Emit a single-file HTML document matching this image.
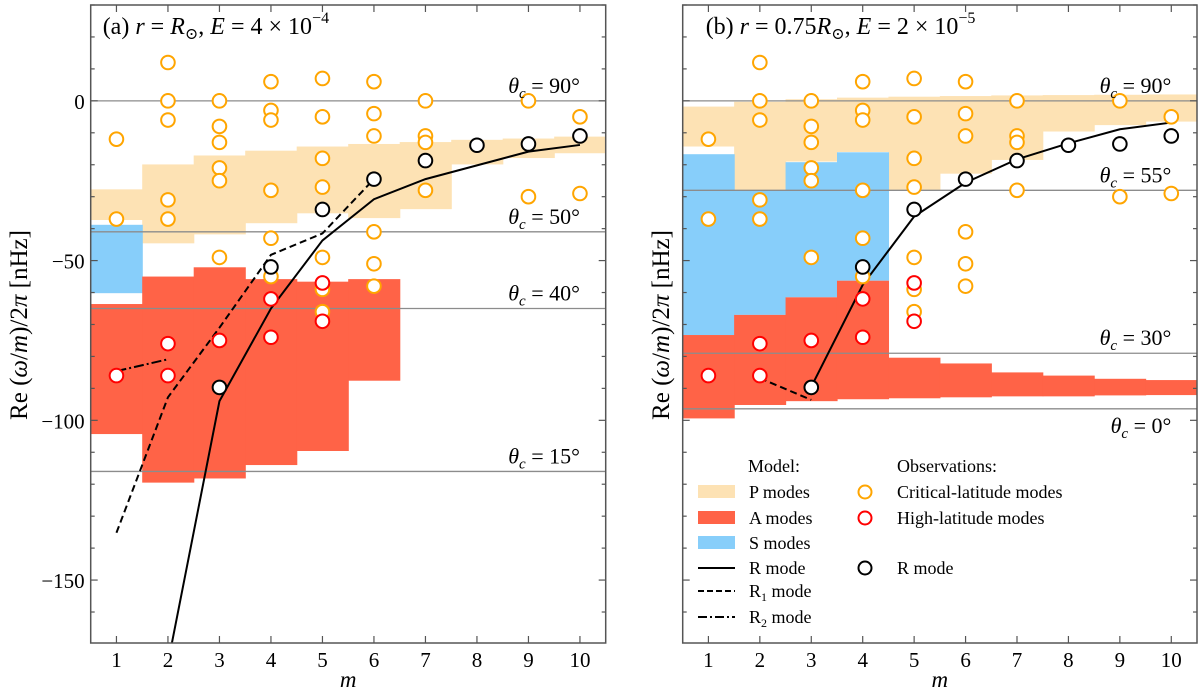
<!DOCTYPE html>
<html><head><meta charset="utf-8">
<style>
html,body{margin:0;padding:0;background:#fff;}
svg{display:block;font-family:"Liberation Serif","DejaVu Serif",serif;}
</style></head>
<body>
<svg id="chart" width="1200" height="690" viewBox="0 0 1200 690" xmlns="http://www.w3.org/2000/svg">
</svg>
<script>
// ---------- shared data ----------
const mValues = [1,2,3,4,5,6,7,8,9,10];
const yTickMajor = [0,-50,-100,-150];
const yTickLabels = ["0","\u221250","\u2212100","\u2212150"];
// observations (same in both panels)
const obsCritM   = [1,1,2,2,2,2,2,3,3,3,3,3,3,4,4,4,4,4,4,5,5,5,5,5,5,5,6,6,6,6,6,6,7,7,7,7,9,9,10,10];
const obsCritVal = [-12,-37,12,0,-6,-31,-37,0,-8,-13,-21,-25,-49,6,-3,-6,-28,-43,-55,7,-5,-18,-27,-49,-59,-66,6,-4,-11,-41,-51,-58,0,-11,-13,-28,0,-30,-5,-29];
const obsHighM   = [1,2,2,3,4,4,5,5];
const obsHighVal = [-86,-76,-86,-75,-62,-74,-57,-69];
const obsRM      = [3,4,5,6,7,8,9,10];
const obsRVal    = [-89.7,-52,-34,-24.5,-18.7,-13.9,-13.5,-11];

// panel (a)
const aPTop = [-27.7,-19.9,-17.1,-15.6,-14.3,-13.5,-12.9,-12.2,-11.8,-11.2];
const aPBot = [-37.3,-44.6,-41.8,-38.3,-35.2,-36.7,-33.9,-19.9,-17.9,-16.4];
const aSM   = [1];
const aSTop = [-38.8];
const aSBot = [-60.2];
const aAM   = [1,2,3,4,5,6];
const aATop = [-63.6,-55,-52.1,-55.8,-56.6,-55.8];
const aABot = [-104.3,-119.5,-118.2,-114,-109.6,-87.6];
const aRM   = [2,3,4,5,6,7,8,9,10];
const aRVal = [-176,-94,-65,-43.7,-30.8,-24.5,-20.2,-15.9,-13.8];
const aR1M  = [1,2,3,4,5,6];
const aR1Val= [-135.2,-92.8,-71,-48.2,-41.5,-24.5];
const aR2M  = [1,2];
const aR2Val= [-84.6,-80.9];
const aThetaVal = [0,-41,-65,-116];
const aThetaLab = ["90","50","40","15"];

// panel (b)
const bPTop = [-1.8,-0.3,0.5,1,1.3,1.5,1.7,1.8,1.9,2];
const bPBot = [-14.3,-28,-19,-16,-28,-22.8,-18.5,-9.6,-7.6,-6.5];
const bSM   = [1,2,3,4];
const bSTop = [-16.7,-28,-19.2,-16.1];
const bSBot = [-73.3,-67,-61.5,-56.3];
const bAM   = [1,2,3,4,5,6,7,8,9,10];
const bATop = [-73.3,-67,-61.5,-56.3,-80.4,-82.2,-85,-86,-87,-87.4];
const bABot = [-99.4,-95.2,-94,-93.4,-93.1,-92.8,-92.5,-92.5,-92.2,-92.1];
const bRM   = [3,4,5,6,7,8,9,10];
const bRVal = [-89.5,-57.6,-36.2,-25.6,-18.3,-13.3,-8.9,-6.8];
const bR1M  = [2,3];
const bR1Val= [-86.8,-93.6];
const bR2M  = [];
const bR2Val= [];
const bThetaVal = [0,-28,-79,-96.4];
const bThetaLab = ["90","55","30","0"];

const NS = "http://www.w3.org/2000/svg";
const svg = document.getElementById('chart');
function mk(tag, attrs, parent){
  const e = document.createElementNS(NS, tag);
  for (const k in attrs) e.setAttribute(k, attrs[k]);
  (parent||svg).appendChild(e);
  return e;
}
const COL = {P:"#fde2b4", A:"#ff6347", S:"#87cefa", orange:"#ffa500", red:"#ff0000", grey:"#8c8c8c"};

function panel(cfg){
  const L=cfg.left, R=cfg.right, T=5, B=643;
  const yMin=-169.7, yMax=30;
  const xs = m => L + (m-0.5)/10*(R-L);
  const ys = v => T + (yMax-v)/(yMax-yMin)*(B-T);
  const g = mk('g',{});
  
  
  const clipId = cfg.name+'-clip';
  const defs = mk('defs',{},g);
  const cp = mk('clipPath',{id:clipId},defs);
  mk('rect',{x:L,y:T,width:R-L,height:B-T},cp);
  const plot = mk('g',{'clip-path':'url(#'+clipId+')'},g);
  
  
  const half = (R-L)/20;
  function bands(ms, tops, bots, color, nm){
    for(let i=0;i<ms.length;i++){
      const y1=ys(tops[i]), y2=ys(bots[i]);
      const r = mk('rect',{x:xs(ms[i])-half,y:y1,width:2*half+0.6,height:y2-y1,fill:color},plot);
      
      
    }
  }
  bands(mValues, cfg.PTop, cfg.PBot, COL.P, 'p-modes');
  bands(cfg.SM, cfg.STop, cfg.SBot, COL.S, 's-modes');
  bands(cfg.AM, cfg.ATop, cfg.ABot, COL.A, 'a-modes');
  // theta lines
  for(let i=0;i<cfg.thetaVal.length;i++){
    const y=ys(cfg.thetaVal[i]);
    const ln = mk('line',{x1:L,x2:R,y1:y,y2:y,stroke:COL.grey,'stroke-width':1.3},plot);
    
    
    const below = cfg.thetaBelow && i===cfg.thetaVal.length-1;
    const t = mk('text',{x:xs(10)+0,y: below? y+24 : y-8,'font-size':22,'text-anchor':'end'},g);
    
    
    t.innerHTML = '<tspan font-style="italic">θ</tspan><tspan font-style="italic" font-size="15" dy="5">c</tspan><tspan dy="-5"> = '+cfg.thetaLab[i]+'°</tspan>';
  }
  function line(ms, vals, dash, nm){
    if(!ms.length) return;
    const pts = ms.map((m,i)=>xs(m)+','+ys(vals[i])).join(' ');
    const p = mk('polyline',{points:pts,fill:'none',stroke:'#000','stroke-width':2,'stroke-dasharray':dash},plot);
    
    
  }
  line(cfg.RM, cfg.RVal, 'none', 'r-mode-line');
  line(cfg.R1M, cfg.R1Val, '7,4', 'r1-mode-line');
  line(cfg.R2M, cfg.R2Val, '10,3,2,3', 'r2-mode-line');
  function circles(ms, vals, color, nm){
    for(let i=0;i<ms.length;i++){
      const c = mk('circle',{cx:xs(ms[i]),cy:ys(vals[i]),r:6.8,fill:'#fff',stroke:color,'stroke-width':2},plot);
      
      
    }
  }
  circles(obsCritM, obsCritVal, COL.orange, 'critical-latitude-obs');
  circles(obsHighM, obsHighVal, COL.red, 'high-latitude-obs');
  circles(obsRM, obsRVal, '#000', 'r-mode-obs');
  // frame
  const fr = mk('rect',{x:L,y:T,width:R-L,height:B-T,fill:'none',stroke:'#555','stroke-width':1.5},g);
  
  
  // x ticks
  for(const m of mValues){
    const x=xs(m);
    mk('line',{x1:x,x2:x,y1:B,y2:B-7,stroke:'#555','stroke-width':1.2},g);
    mk('line',{x1:x,x2:x,y1:T,y2:T+7,stroke:'#555','stroke-width':1.2},g);
    const t = mk('text',{x:x,y:B+24,'font-size':21,'text-anchor':'middle'},g);
    
    
    t.textContent = m;
  }
  // y ticks
  for(let v=-160; v<=30; v+=10){
    const y=ys(v); const major = v%50===0;
    const len = major?7:4;
    mk('line',{x1:L,x2:L+len,y1:y,y2:y,stroke:'#555','stroke-width':1.2},g);
    mk('line',{x1:R,x2:R-len,y1:y,y2:y,stroke:'#555','stroke-width':1.2},g);
  }
  if(cfg.showYLabels){
    for(let i=0;i<yTickMajor.length;i++){
      const t = mk('text',{x:L-6,y:ys(yTickMajor[i])+8,'font-size':21,'text-anchor':'end'},g);
      
      
      t.textContent = yTickLabels[i];
    }
  }
  const xl = mk('text',{x:(L+R)/2,y:B+44,'font-size':23,'font-style':'italic','text-anchor':'middle'},g);
  
  
  xl.textContent='m';
  const yl = mk('text',{x:0,y:0,'font-size':25,'text-anchor':'middle',transform:'translate('+cfg.ylabX+',325) rotate(-90)'},g);
  
  
  yl.innerHTML='Re (<tspan font-style="italic">ω</tspan>/<tspan font-style="italic">m</tspan>)/2<tspan font-style="italic">π</tspan>  [nHz]';
  const tt = mk('text',{x:L+cfg.titleDx,y:34,'font-size':24},g);
  
  
  tt.innerHTML = cfg.title;
  return {xs,ys,g};
}

panel({name:'panel-a',left:90.7,right:605.7,PTop:aPTop,PBot:aPBot,SM:aSM,STop:aSTop,SBot:aSBot,AM:aAM,ATop:aATop,ABot:aABot,
  RM:aRM,RVal:aRVal,R1M:aR1M,R1Val:aR1Val,R2M:aR2M,R2Val:aR2Val,thetaVal:aThetaVal,thetaLab:aThetaLab,showYLabels:true,ylabX:27,titleDx:12,
  title:'(a) <tspan font-style="italic">r</tspan> = <tspan font-style="italic">R</tspan><tspan font-size="16" dy="5">⊙</tspan><tspan dy="-5">, </tspan><tspan font-style="italic">E</tspan> = 4 × 10<tspan font-size="16" dy="-11">−4</tspan>'});
panel({name:'panel-b',left:682.7,right:1197,PTop:bPTop,PBot:bPBot,SM:bSM,STop:bSTop,SBot:bSBot,AM:bAM,ATop:bATop,ABot:bABot,
  RM:bRM,RVal:bRVal,R1M:bR1M,R1Val:bR1Val,R2M:bR2M,R2Val:bR2Val,thetaVal:bThetaVal,thetaLab:bThetaLab,thetaBelow:true,showYLabels:false,ylabX:669,titleDx:23,
  title:'(b) <tspan font-style="italic">r</tspan> = 0.75<tspan font-style="italic">R</tspan><tspan font-size="16" dy="5">⊙</tspan><tspan dy="-5">, </tspan><tspan font-style="italic">E</tspan> = 2 × 10<tspan font-size="16" dy="-11">−5</tspan>'});

// ---------- legend ----------
const lg = mk('g',{'font-size':18});


function ltext(x,y,html,nm){
  const t = mk('text',{x:x,y:y+6},lg);
  
  
  t.innerHTML=html;
}
ltext(748,466,'Model:','legend-model-heading');
ltext(897,466,'Observations:','legend-observations-heading');
const rows=[['P modes',492,COL.P],['A modes',518,COL.A],['S modes',543,COL.S]];
for(const r of rows){
  const s = mk('rect',{x:698,y:r[1]-7,width:37,height:13,fill:r[2]},lg);
  
  
  ltext(749,r[1],r[0],'legend-entry');
}
const lines=[['R mode',568,'none'],['R<tspan font-size="12" dy="4">1</tspan><tspan dy="-4"> mode</tspan>',591,'6,3'],['R<tspan font-size="12" dy="4">2</tspan><tspan dy="-4"> mode</tspan>',617,'9,3,2,3']];
for(const r of lines){
  const l = mk('line',{x1:698,x2:735,y1:r[1],y2:r[1],stroke:'#000','stroke-width':2,'stroke-dasharray':r[2]},lg);
  
  
  ltext(749,r[1],r[0],'legend-entry');
}
const obsRows=[['Critical-latitude modes',492,COL.orange],['High-latitude modes',518,COL.red],['R mode',568,'#000']];
for(const r of obsRows){
  const c = mk('circle',{cx:865,cy:r[1],r:6.5,fill:'#fff',stroke:r[2],'stroke-width':2},lg);
  
  
  ltext(897,r[1],r[0],'legend-entry');
}
</script>
</body></html>
